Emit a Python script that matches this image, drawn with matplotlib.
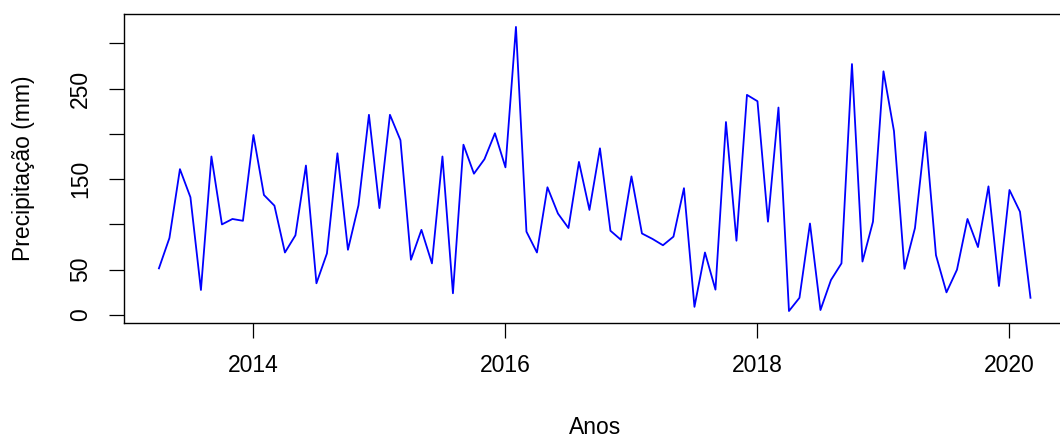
import numpy as np
import matplotlib
matplotlib.use('Agg')
import matplotlib.pyplot as plt

# Monthly precipitation, April 2013 to March 2020
start_year = 2013
start_month = 4
precip = [51.5, 85, 161, 130, 27.6, 175, 100, 106, 104, 198.7, 132.5, 120.7,
          69, 88, 165, 35, 68, 178.5, 72, 121, 221, 118, 221, 193,
          61, 94, 57, 175, 24, 188, 156, 172, 200.6, 163, 318, 92,
          69, 141, 112, 96, 169, 116, 184, 93, 83, 153, 90, 84,
          77, 86.5, 140, 9, 69, 28, 213, 82, 243, 236, 103, 229,
          4.4, 19, 101, 5.5, 38.6, 57, 277, 59, 103, 269, 203, 51,
          96, 202, 66, 25, 50, 106, 75, 142, 32, 138, 114, 19]

y_ticks = [0, 50, 100, 150, 200, 250, 300]
y_labels = ['0', '50', '', '150', '', '250', '']
x_ticks = [2014, 2016, 2018, 2020]

# time axis in decimal years, like an R ts object
t = start_year + (start_month - 1) / 12 + np.arange(len(precip)) / 12

plt.rcParams['font.family'] = ['Liberation Sans', 'DejaVu Sans']

fig = plt.figure(figsize=(10.6, 4.38), dpi=100)
ax = fig.add_axes([0.117, 0.2626, 0.888, 0.7055])

ax.plot(t, precip, color='#0000FF', linewidth=1.3)

ax.set_xlim(2012.973, 2020.443)
ax.set_ylim(-8.8, 332.3)

ax.set_xticks(x_ticks)
ax.set_xticklabels([str(x) for x in x_ticks])
ax.set_yticks(y_ticks)
ax.set_yticklabels(y_labels, rotation=90, va='center')

ax.tick_params(axis='both', direction='out', length=10.8, width=0.9,
               colors='black', labelsize=16.5)
ax.tick_params(axis='x', pad=11.5)
ax.tick_params(axis='y', pad=12)

for s in ax.spines.values():
    s.set_linewidth(1.0)
    s.set_color('black')

ax.set_xlabel('Anos', fontsize=16.5)
ax.xaxis.set_label_coords(0.5, -0.337)
ax.xaxis.label.set_va('center')
ax.set_ylabel('Precipitação (mm)', fontsize=16.5)
ax.yaxis.set_label_coords(-0.1073, 0.5)
ax.yaxis.label.set_va('center')

fig.savefig('out.png', dpi=100)
